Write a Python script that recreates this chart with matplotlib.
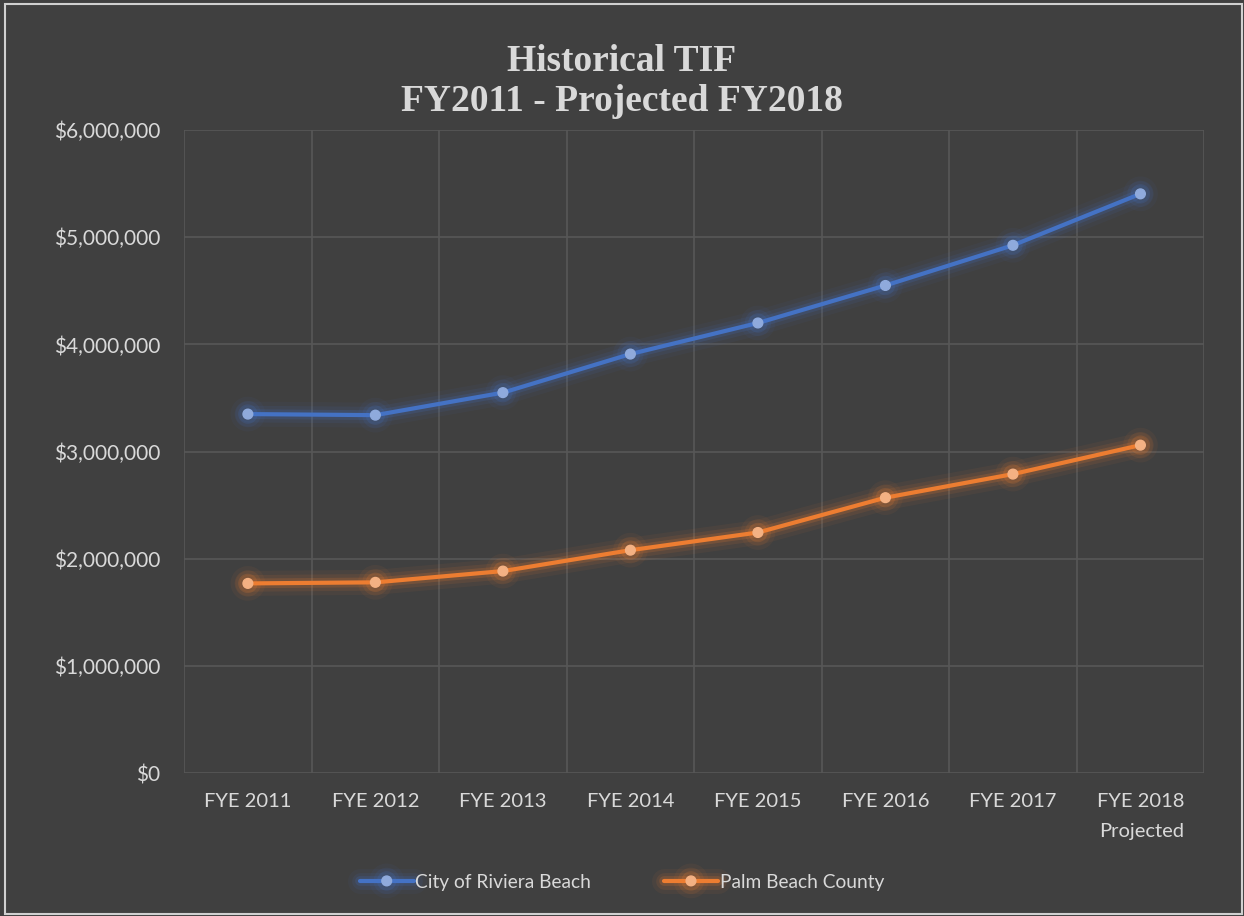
import matplotlib.pyplot as plt
import matplotlib.patheffects as pe
from matplotlib.patches import Rectangle
from matplotlib.ticker import FuncFormatter, MultipleLocator

years = ['FYE 2011', 'FYE 2012', 'FYE 2013', 'FYE 2014',
         'FYE 2015', 'FYE 2016', 'FYE 2017', 'FYE 2018\nProjected']
riviera = [3350000, 3340000, 3550000, 3910000, 4200000, 4550000, 4925000, 5405000]
palm_beach = [1770000, 1780000, 1885000, 2080000, 2245000, 2570000, 2790000, 3060000]

bg = '#404040'
text_color = '#d9d9d9'
grid_color = '#575757'

series = [
    ('City of Riviera Beach', riviera, '#4472c4', '#8faadc'),
    ('Palm Beach County', palm_beach, '#ed7d31', '#f4b183'),
]

fig = plt.figure(figsize=(12.44, 9.16), dpi=100, facecolor=bg)
ax = fig.add_axes([0.148, 0.156, 0.82, 0.702], facecolor=bg)

x = list(range(len(years)))
for name, values, color, marker_color in series:
    glow = [pe.Stroke(linewidth=18, foreground=color, alpha=0.06),
            pe.Stroke(linewidth=12, foreground=color, alpha=0.1),
            pe.Stroke(linewidth=7, foreground=color, alpha=0.18),
            pe.Normal()]
    ax.plot(x, values, color=color, linewidth=3, marker='o', markersize=7,
            markerfacecolor=marker_color, markeredgecolor=marker_color,
            label=name, path_effects=glow, solid_capstyle='round', zorder=3)

ax.set_xlim(-0.5, len(years) - 0.5)
ax.set_ylim(0, 6000000)
ax.yaxis.set_major_locator(MultipleLocator(1000000))
ax.yaxis.set_major_formatter(FuncFormatter(lambda v, p: f'${v:,.0f}'))
ax.set_xticks(x)
ax.set_xticklabels(years)
ax.set_xticks([i - 0.5 for i in range(len(years) + 1)], minor=True)

ax.grid(True, which='major', axis='y', color=grid_color, linewidth=1.2)
ax.grid(True, which='minor', axis='x', color=grid_color, linewidth=1.2)
ax.yaxis.get_gridlines()[0].set_visible(False)
ax.set_axisbelow(True)

for s in ax.spines.values():
    s.set_visible(False)
ax.tick_params(which='both', length=0, colors=text_color, labelsize=14.5)
ax.tick_params(axis='y', labelsize=15, pad=17)
ax.tick_params(axis='x', pad=14)
for lbl in ax.get_xticklabels() + ax.get_yticklabels():
    lbl.set_fontfamily('Lato')
    lbl.set_color(text_color)
for lbl in ax.get_xticklabels():
    lbl.set_horizontalalignment('center')
    lbl.set_multialignment('right')
    lbl.set_linespacing(1.95)

fig.text(0.5, 0.911, 'Historical TIF\nFY2011 - Projected FY2018', ha='center', va='center',
         fontsize=27, fontweight='bold', family='Liberation Serif', color=text_color,
         linespacing=1.2)

leg = ax.legend(loc='center', ncol=2, frameon=False, fontsize=13.8, handlelength=2.8,
                columnspacing=3.8, handletextpad=0.1)
for t in leg.get_texts():
    t.set_color(text_color)
    t.set_fontfamily('Lato')
leg.set_bbox_to_anchor((0.5, 0.037), transform=fig.transFigure)

fig.add_artist(Rectangle((0.004, 0.002), 0.994, 0.994, transform=fig.transFigure,
                         fill=False, edgecolor='#d0d0d0', linewidth=1.5))

fig.savefig('out.png', dpi=100, facecolor=bg)
